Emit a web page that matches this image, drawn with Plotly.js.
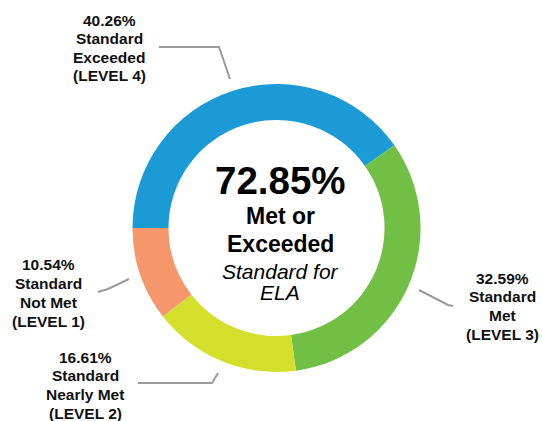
<!DOCTYPE html>
<html>
<head>
<meta charset="utf-8">
<script src="https://cdn.plot.ly/plotly-3.0.1.min.js"></script>
<style>
  html, body { margin: 0; padding: 0; background: #ffffff; }
  #chart { width: 542px; height: 421px; }
</style>
</head>
<body>
<div id="chart"></div>
<script>
// ---- Data ----
const categories = ['Standard Exceeded (LEVEL 4)', 'Standard Met (LEVEL 3)', 'Standard Nearly Met (LEVEL 2)', 'Standard Not Met (LEVEL 1)'];
const values = [40.26, 32.59, 16.61, 10.54];
const labelLines = [
  ['Standard', 'Exceeded', '(LEVEL 4)'],
  ['Standard', 'Met', '(LEVEL 3)'],
  ['Standard', 'Nearly Met', '(LEVEL 2)'],
  ['Standard', 'Not Met', '(LEVEL 1)']
];
const sliceColors = ['#1b9ad6', '#71bf44', '#d3df2b', '#f5976b'];
const centerTotal = '72.85%';
const centerLines = ['Met or', 'Exceeded', 'Standard for', 'ELA'];

// ---- Layout helpers (pixel -> paper) ----
const W = 542, H = 421;
const px = x => x / W;
const py = y => 1 - y / H;

// label placement (center x, middle y of first line, line step)
const labelPos = [
  {x: 109, y: 20.5, step: 18.3},
  {x: 502, y: 278, step: 18.7},
  {x: 85, y: 357, step: 18.7},
  {x: 48, y: 264, step: 19}
];
// leader lines in pixel coords
const leaders = [
  [[159, 47], [219, 47], [230, 79]],
  [[419, 290], [448, 305], [453, 306]],
  [[138, 383], [212, 383], [218, 373]],
  [[98, 292], [108, 289], [129, 279]]
];

const annotations = [];
const baseFont = {family: '"Liberation Sans", Arial, sans-serif', color: '#111111'};

values.forEach((v, i) => {
  const lines = [v.toFixed(2) + '%'].concat(labelLines[i]);
  lines.forEach((t, j) => {
    annotations.push({
      xref: 'paper', yref: 'paper',
      x: px(labelPos[i].x), y: py(labelPos[i].y + j * labelPos[i].step),
      xanchor: 'center', yanchor: 'middle',
      text: '<b>' + t + '</b>', showarrow: false,
      font: Object.assign({}, baseFont, {size: 15.5})
    });
  });
});

// center text
const centerSpec = [
  {t: '<b>' + centerTotal + '</b>', y: 180.5, size: 38.5},
  {t: '<b>' + centerLines[0] + '</b>', y: 216, size: 23},
  {t: '<b>' + centerLines[1] + '</b>', y: 244, size: 23},
  {t: '<i>' + centerLines[2] + '</i>', y: 271.5, size: 21},
  {t: '<i>' + centerLines[3] + '</i>', y: 292.5, size: 21}
];
centerSpec.forEach(c => {
  annotations.push({
    xref: 'paper', yref: 'paper',
    x: px(280), y: py(c.y), xanchor: 'center', yanchor: 'middle',
    text: c.t, showarrow: false,
    font: Object.assign({}, baseFont, {size: c.size, color: '#000000'})
  });
});

const shapes = leaders.map(pts => ({
  type: 'path', xref: 'paper', yref: 'paper',
  path: pts.map((p, k) => (k === 0 ? 'M' : 'L') + px(p[0]) + ',' + py(p[1])).join(' '),
  line: {color: '#9a9a9a', width: 2}
}));

const cx = 276.5, cy = 228, R = 144;
const trace = {
  type: 'pie',
  labels: categories,
  values: values,
  sort: false,
  direction: 'clockwise',
  rotation: 270,
  hole: 0.75,
  marker: {colors: sliceColors, line: {width: 0}},
  textinfo: 'none',
  hoverinfo: 'skip',
  showlegend: false,
  domain: {x: [px(cx - R), px(cx + R)], y: [py(cy + R), py(cy - R)]}
};

const layout = {
  width: W, height: H,
  margin: {l: 0, r: 0, t: 0, b: 0},
  paper_bgcolor: '#ffffff',
  showlegend: false,
  annotations: annotations,
  shapes: shapes
};

Plotly.newPlot('chart', [trace], layout, {displayModeBar: false, staticPlot: true});
</script>
</body>
</html>
